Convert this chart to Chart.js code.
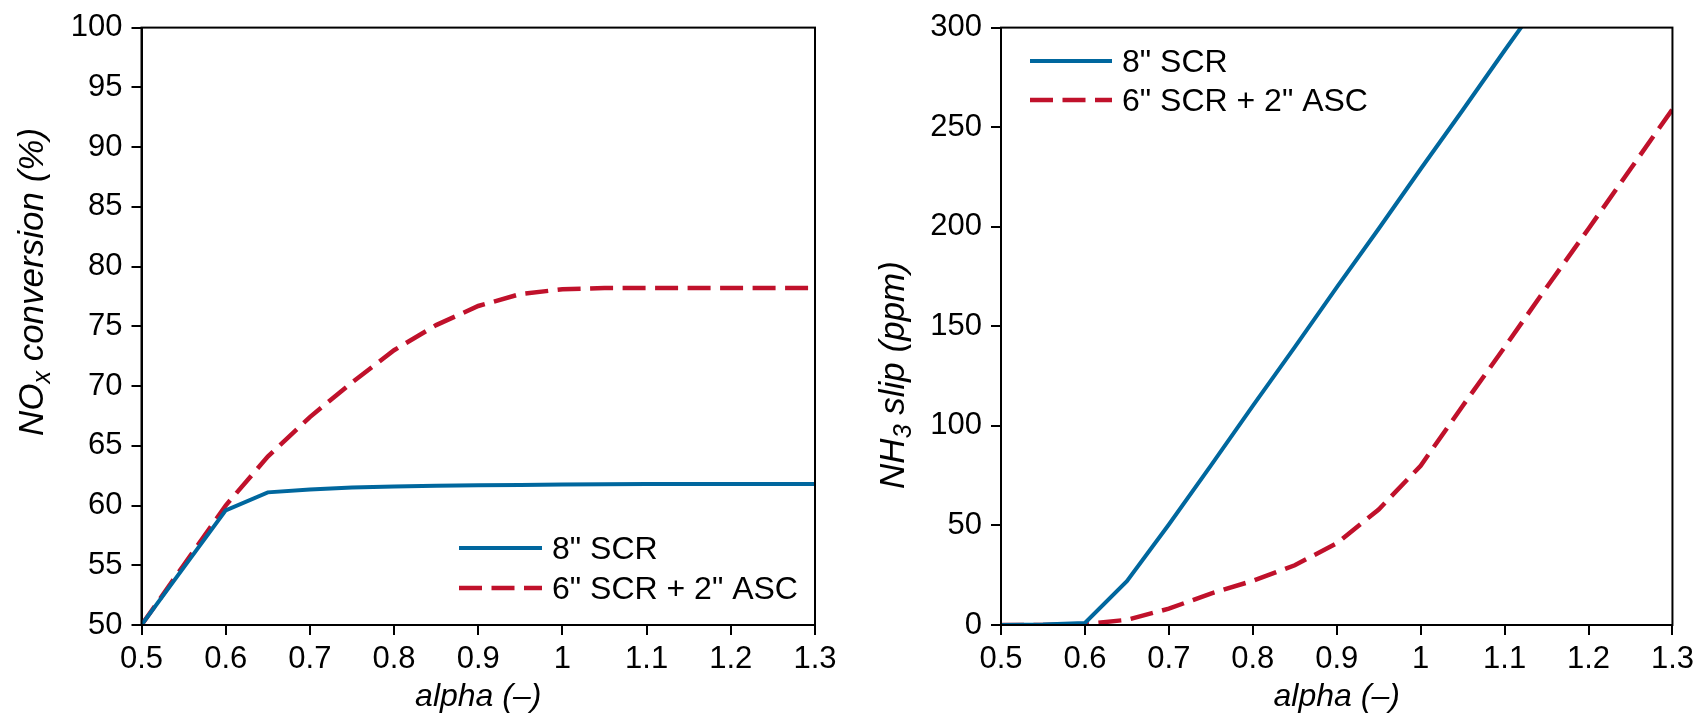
<!DOCTYPE html>
<html>
<head>
<meta charset="utf-8">
<script src="https://cdn.jsdelivr.net/npm/chart.js@4"></script>
<style>
  html, body { margin: 0; padding: 0; background: #fff; }
  #wrap { position: relative; width: 1700px; height: 718px; }
  canvas { position: absolute; top: 0; }
  #c1 { left: 0; }
  #c2 { left: 850px; }
</style>
</head>
<body>
<div id="wrap">
  <canvas id="c1" width="850" height="718"></canvas>
  <canvas id="c2" width="850" height="718"></canvas>
</div>
<script>
// ---- data ----
const alpha   = [0.5, 0.55, 0.6, 0.65, 0.7, 0.75, 0.8, 0.85, 0.9, 0.95, 1.0, 1.05, 1.1, 1.15, 1.2, 1.25, 1.3];
const noxSCR  = [50, 54.8, 59.6, 61.1, 61.35, 61.5, 61.6, 61.65, 61.7, 61.72, 61.75, 61.77, 61.8, 61.8, 61.8, 61.8, 61.8];
const noxASC  = [50, 55, 60, 64.1, 67.4, 70.3, 73.0, 75.1, 76.7, 77.7, 78.1, 78.2, 78.2, 78.2, 78.2, 78.2, 78.2];
const nh3SCR  = [0, 0.2, 1, 22, 50.5, 80, 110, 139.5, 169.5, 199, 229, 258.5, 288.5, 318, 348, 377.5, 407.5];
const nh3ASC  = [0, 0, 0.5, 2.6, 8.2, 15.8, 22.2, 30, 41, 58, 80, 110, 139.5, 169.5, 199, 229, 259];
const xTickValues = [0.5, 0.6, 0.7, 0.8, 0.9, 1.0, 1.1, 1.2, 1.3];
const xTickLabels = ['0.5', '0.6', '0.7', '0.8', '0.9', '1', '1.1', '1.2', '1.3'];
const noxTicks = [50, 55, 60, 65, 70, 75, 80, 85, 90, 95, 100];
const nh3Ticks = [0, 50, 100, 150, 200, 250, 300];
const seriesLabels = ['8" SCR', '6" SCR + 2" ASC'];
const xTitle = 'alpha (\u2013)';

const FONT = "'Liberation Sans', Arial, Helvetica, sans-serif";
const BLUE = '#00679e';
const RED = '#c0112b';

Chart.defaults.color = '#000';
Chart.defaults.font.family = FONT;

const toXY = (ys) => alpha.map((a, i) => ({ x: a, y: ys[i] }));

const framePlugin = {
  id: 'frameLegendTitle',
  afterDatasetsDraw(chart) {
    const { ctx, chartArea: a } = chart;
    ctx.save();
    ctx.strokeStyle = '#000';
    ctx.lineWidth = 2;
    ctx.setLineDash([]);
    ctx.strokeRect(a.left, a.top, a.right - a.left, a.bottom - a.top);
    ctx.restore();
  },
  afterDraw(chart, args, opts) {
    const { ctx } = chart;
    // legend
    const lg = opts.legend;
    ctx.save();
    chart.data.datasets.forEach((ds, i) => {
      const y = lg.y + i * lg.rowH;
      ctx.beginPath();
      ctx.setLineDash(ds.borderDash || []);
      ctx.lineCap = 'butt';
      ctx.strokeStyle = ds.borderColor;
      ctx.lineWidth = ds.borderWidth;
      ctx.moveTo(lg.x, y);
      ctx.lineTo(lg.x + lg.len, y);
      ctx.stroke();
      ctx.setLineDash([]);
      ctx.fillStyle = '#000';
      ctx.font = lg.size + 'px ' + FONT;
      ctx.textBaseline = 'middle';
      ctx.textAlign = 'left';
      ctx.fillText(ds.label, lg.x + lg.len + lg.gap, y + 2);
    });
    ctx.restore();
    // y title with subscript
    const t = opts.ytitle;
    ctx.save();
    ctx.translate(t.x, t.y);
    ctx.rotate(-Math.PI / 2);
    ctx.fillStyle = '#000';
    ctx.textBaseline = 'middle';
    ctx.textAlign = 'left';
    const mainF = 'italic ' + t.size + 'px ' + FONT;
    const subF = 'italic ' + Math.round(t.size * 0.72) + 'px ' + FONT;
    let total = 0;
    t.parts.forEach(p => { ctx.font = p.sub ? subF : mainF; total += ctx.measureText(p.t).width; });
    let x = -total / 2;
    t.parts.forEach(p => {
      ctx.font = p.sub ? subF : mainF;
      ctx.fillText(p.t, x, p.sub ? t.size * 0.3 : 0);
      x += ctx.measureText(p.t).width;
    });
    ctx.restore();
  }
};

function makeChart(id, ySeries, yMin, yMax, yTicks, yWidth, padRight, legend, ytitle) {
  return new Chart(document.getElementById(id), {
    type: 'line',
    data: {
      datasets: [
        { label: seriesLabels[0], data: toXY(ySeries[0]), borderColor: BLUE, borderWidth: 4,
          pointRadius: 0, tension: 0, fill: false, clip: 0 },
        { label: seriesLabels[1], data: toXY(ySeries[1]), borderColor: RED, borderWidth: 4.5,
          borderDash: [23, 9.5], pointRadius: 0, tension: 0, fill: false, clip: 0 }
      ]
    },
    options: {
      responsive: false,
      animation: false,
      devicePixelRatio: 1,
      layout: { padding: { top: 24, right: padRight, bottom: 0, left: 0 } },
      plugins: {
        legend: { display: false },
        tooltip: { enabled: false },
        frameLegendTitle: { legend: legend, ytitle: ytitle }
      },
      scales: {
        x: {
          type: 'linear', min: 0.5, max: 1.3,
          afterBuildTicks: (s) => { s.ticks = xTickValues.map(v => ({ value: v })); },
          afterFit: (s) => { s.height = 93; },
          ticks: { autoSkip: false, maxRotation: 0, padding: 6, font: { size: 31 },
                   callback: (v, i) => xTickLabels[i] },
          grid: { drawOnChartArea: false, drawTicks: true, tickLength: 10, color: '#000', lineWidth: 2 },
          border: { display: true, color: '#000', width: 2 },
          title: { display: true, text: xTitle, font: { size: 32, style: 'italic' }, padding: { top: 0, bottom: 2 } }
        },
        y: {
          type: 'linear', min: yMin, max: yMax,
          afterBuildTicks: (s) => { s.ticks = yTicks.map(v => ({ value: v })); },
          afterFit: (s) => { s.width = yWidth; },
          ticks: { autoSkip: false, padding: 9, font: { size: 31 },
                   callback: (v, i) => String(yTicks[i]) },
          grid: { drawOnChartArea: false, drawTicks: true, tickLength: 10, color: '#000', lineWidth: 2 },
          border: { display: true, color: '#000', width: 2 }
        }
      }
    },
    plugins: [framePlugin]
  });
}

makeChart('c1', [noxSCR, noxASC], 50, 100, noxTicks, 141.5, 35,
  { x: 459, y: 548, rowH: 40, len: 83, gap: 10, size: 32 },
  { x: 33, y: 282, size: 35, parts: [{ t: 'NO' }, { t: 'x', sub: true }, { t: ' conversion (%)' }] });

makeChart('c2', [nh3SCR, nh3ASC], 0, 300, nh3Ticks, 151, 27,
  { x: 180, y: 61, rowH: 39, len: 82, gap: 10, size: 32 },
  { x: 44, y: 375, size: 35, parts: [{ t: 'NH' }, { t: '3', sub: true }, { t: ' slip (ppm)' }] });
</script>
</body>
</html>
